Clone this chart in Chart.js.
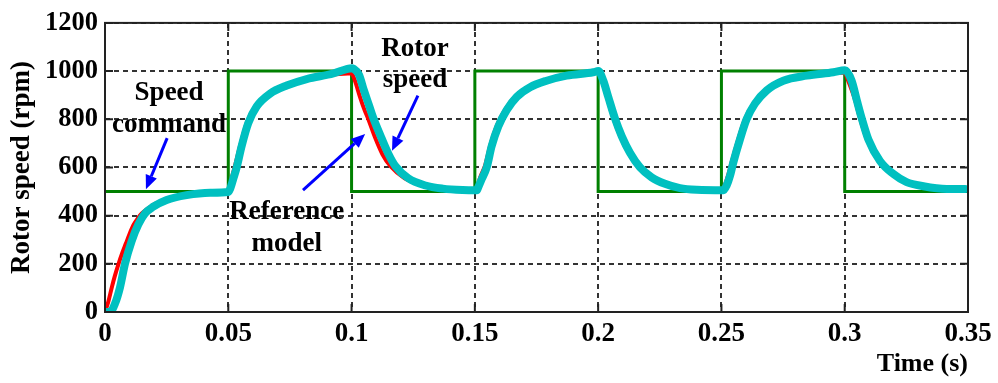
<!DOCTYPE html>
<html>
<head>
<meta charset="utf-8">
<script src="https://cdn.jsdelivr.net/npm/chart.js@4/dist/chart.umd.min.js"></script>
<style>
  html, body { margin: 0; padding: 0; background: #fff; }
  #wrap { position: relative; width: 998px; height: 383px; }
</style>
</head>
<body>
<div id="wrap"><canvas id="c"></canvas></div>
<script>
// Axis ticks
const xTicks = [0, 0.05, 0.1, 0.15, 0.2, 0.25, 0.3, 0.35];
const xTickLabels = ['0', '0.05', '0.1', '0.15', '0.2', '0.25', '0.3', '0.35'];
const yTicks = [0, 200, 400, 600, 800, 1000, 1200];
const yTickLabels = ['0', '200', '400', '600', '800', '1000', '1200'];

// Speed command (rpm), square steps 500 <-> 1000
const commandTime  = [0, 0.05, 0.05, 0.1, 0.1, 0.15, 0.15, 0.2, 0.2, 0.25, 0.25, 0.3, 0.3, 0.35];
const commandSpeed = [500, 500, 1000, 1000, 500, 500, 1000, 1000, 500, 500, 1000, 1000, 500, 500];

// Reference model output (rpm)
const modelTime = [
  0, 0.0014, 0.0027, 0.0040, 0.0055, 0.0070, 0.0085, 0.0100, 0.0115, 0.0135, 0.0149, 0.0175, 0.0205, 0.025, 0.033, 0.0426, 0.0495,
  0.0505, 0.0515, 0.0528, 0.0548, 0.0575, 0.061, 0.066, 0.073, 0.081, 0.090, 0.0985, 0.1,
  0.1012, 0.1035, 0.1052, 0.1068, 0.1095, 0.1125, 0.1158, 0.1215, 0.129, 0.136, 0.144, 0.1505,
  0.1510, 0.1522, 0.1542, 0.1562, 0.1590, 0.1623, 0.1664, 0.1718, 0.1786, 0.1868, 0.1976, 0.2,
  0.2012, 0.2035, 0.2062, 0.2090, 0.2123, 0.2163, 0.2210, 0.2265, 0.2326, 0.2395, 0.2502,
  0.2515, 0.2528, 0.2541, 0.2568, 0.2595, 0.2630, 0.2678, 0.2745, 0.2840, 0.2948, 0.3,
  0.3012, 0.3042, 0.3062, 0.3090, 0.3137, 0.3191, 0.3245, 0.3313, 0.3410, 0.3488];
const modelSpeed = [
  0, 45, 100, 150, 200, 245, 285, 325, 360, 392, 409, 430, 450, 466, 485, 496, 498,
  520, 560, 610, 690, 785, 853, 906, 940, 965, 982, 990, 990,
  965, 890, 840, 800, 725, 655, 605, 555, 525, 512, 506, 504,
  520, 560, 610, 690, 775, 840, 895, 934, 962, 982, 993, 994,
  970, 895, 804, 729, 661, 600, 559, 532, 514, 507, 504,
  530, 570, 620, 716, 800, 865, 920, 960, 981, 993, 994,
  965, 880, 804, 716, 627, 573, 539, 522, 511, 510];

// Measured rotor speed (rpm)
const rotorTime = [
  0, 0.0020, 0.0041, 0.0061, 0.0081, 0.0108, 0.0135, 0.0162, 0.0196, 0.025, 0.0331, 0.0426, 0.0500,
  0.0507, 0.0520, 0.0534, 0.0554, 0.0581, 0.0615, 0.0669, 0.0737, 0.0818, 0.0926, 0.0980, 0.1,
  0.1007, 0.1030, 0.1050, 0.1070, 0.1090, 0.1120, 0.1150, 0.1178, 0.1230, 0.1300, 0.1370, 0.1450, 0.1508,
  0.1514, 0.1528, 0.1548, 0.1568, 0.1595, 0.1629, 0.1670, 0.1724, 0.1791, 0.1872, 0.1980, 0.2001,
  0.2021, 0.2041, 0.2068, 0.2096, 0.2129, 0.2170, 0.2217, 0.2271, 0.2332, 0.2400, 0.2508,
  0.2521, 0.2535, 0.2548, 0.2575, 0.2602, 0.2636, 0.2684, 0.2751, 0.2846, 0.2954, 0.3001,
  0.3028, 0.3049, 0.3069, 0.3096, 0.3143, 0.3197, 0.3251, 0.3319, 0.3414, 0.3488];
const rotorSpeed = [
  0, 0, 36, 103, 200, 294, 363, 409, 437, 465, 485, 495, 498,
  510, 552, 600, 688, 784, 853, 906, 940, 967, 990, 1008, 1012,
  1010, 985, 920, 860, 800, 725, 655, 605, 555, 525, 512, 506, 505,
  518, 552, 600, 688, 770, 838, 893, 933, 960, 981, 995, 1000,
  960, 893, 804, 729, 661, 600, 559, 532, 514, 507, 505,
  525, 566, 620, 716, 800, 865, 920, 960, 981, 995, 1003,
  960, 879, 804, 716, 627, 573, 539, 522, 511, 511];

const pts = (xs, ys) => xs.map((x, i) => ({ x: x, y: ys[i] }));

// Callout texts, arrows in data units (time, rpm)
const callouts = [
  { lines: ['Speed', 'command'], t: 0.0260, v: [882, 747], arrow: [0.0252, 722, 0.0166, 510] },
  { lines: ['Rotor', 'speed'], t: 0.1257, v: [1062, 935], arrow: [0.1269, 898, 0.1164, 669] },
  { lines: ['Reference', 'model'], t: 0.0737, v: [384, 253], arrow: [0.0803, 506, 0.1055, 739] }
];

const SERIF = '"Liberation Serif", "Times New Roman", serif';

const framePlugin = {
  id: 'frameAndCallouts',
  afterDatasetsDraw(chart) {
    const { ctx, chartArea: a, scales } = chart;
    const xs = scales.x, ys = scales.y;
    ctx.save();
    // inner tick marks
    ctx.strokeStyle = '#222';
    ctx.lineWidth = 2;
    ctx.setLineDash([]);
    const tl = 8;
    ctx.beginPath();
    xTicks.forEach(t => {
      const px = xs.getPixelForValue(t);
      ctx.moveTo(px, a.bottom); ctx.lineTo(px, a.bottom - tl);
      ctx.moveTo(px, a.top); ctx.lineTo(px, a.top + tl);
    });
    yTicks.forEach(v => {
      const py = ys.getPixelForValue(v);
      ctx.moveTo(a.left, py); ctx.lineTo(a.left + tl, py);
      ctx.moveTo(a.right, py); ctx.lineTo(a.right - tl, py);
    });
    ctx.stroke();
    // box
    ctx.strokeStyle = '#222';
    ctx.lineWidth = 2;
    ctx.strokeRect(a.left, a.top, a.right - a.left, a.bottom - a.top);

    // callouts
    ctx.font = 'bold 27px ' + SERIF;
    ctx.textAlign = 'center';
    ctx.textBaseline = 'alphabetic';
    callouts.forEach(c => {
      ctx.fillStyle = '#000';
      const px = xs.getPixelForValue(c.t);
      c.lines.forEach((ln, i) => ctx.fillText(ln, px, ys.getPixelForValue(c.v[i])));
      const [t0, v0, t1, v1] = c.arrow;
      const x0 = xs.getPixelForValue(t0), y0 = ys.getPixelForValue(v0);
      const x1 = xs.getPixelForValue(t1), y1 = ys.getPixelForValue(v1);
      const ang = Math.atan2(y1 - y0, x1 - x0);
      const hl = 14, hw = 6;
      const bx = x1 - hl * Math.cos(ang), by = y1 - hl * Math.sin(ang);
      ctx.strokeStyle = '#0000ff';
      ctx.fillStyle = '#0000ff';
      ctx.lineWidth = 3;
      ctx.beginPath();
      ctx.moveTo(x0, y0); ctx.lineTo(bx, by);
      ctx.stroke();
      ctx.beginPath();
      ctx.moveTo(x1, y1);
      ctx.lineTo(bx + hw * Math.sin(ang), by - hw * Math.cos(ang));
      ctx.lineTo(bx - hw * Math.sin(ang), by + hw * Math.cos(ang));
      ctx.closePath();
      ctx.fill();
    });
    ctx.restore();
  }
};

new Chart(document.getElementById('c'), {
  type: 'line',
  data: {
    datasets: [
      { label: 'Rotor speed', data: pts(rotorTime, rotorSpeed), order: 0,
        borderColor: '#00c0c0', borderWidth: 8, pointRadius: 0,
        cubicInterpolationMode: 'monotone', borderCapStyle: 'round', borderJoinStyle: 'round' },
      { label: 'Reference model', data: pts(modelTime, modelSpeed), order: 1,
        borderColor: '#ff0000', borderWidth: 4, pointRadius: 0,
        cubicInterpolationMode: 'monotone', borderJoinStyle: 'round' },
      { label: 'Speed command', data: pts(commandTime, commandSpeed), order: 2,
        borderColor: '#008000', borderWidth: 3, pointRadius: 0, tension: 0 }
    ]
  },
  options: {
    responsive: true,
    maintainAspectRatio: false,
    devicePixelRatio: 1,
    animation: false,
    events: [],
    layout: { padding: { top: 18, right: 30, left: 0, bottom: 0 } },
    plugins: { legend: { display: false }, tooltip: { enabled: false } },
    scales: {
      x: {
        type: 'linear', min: 0, max: 0.35,
        afterBuildTicks: s => { s.ticks = xTicks.map(v => ({ value: v })); },
        afterFit: s => { s.height = 71; },
        ticks: {
          color: '#000', padding: 6, maxRotation: 0, autoSkip: false,
          font: { family: SERIF, size: 27, weight: 'bold' },
          callback: (v, i) => xTickLabels[i]
        },
        grid: { color: '#333', lineWidth: 2, drawTicks: false },
        border: { display: false, dash: [5, 4] },
        title: { display: true, text: 'Time (s)', align: 'end', color: '#000',
          font: { family: SERIF, size: 26, weight: 'bold' }, padding: { top: 0, bottom: 3 } }
      },
      y: {
        min: 0, max: 1200,
        afterBuildTicks: s => { s.ticks = yTicks.map(v => ({ value: v })); },
        afterFit: s => { s.width = 105; },
        ticks: {
          color: '#000', padding: 7,
          font: { family: SERIF, size: 26.5, weight: 'bold' },
          callback: (v, i) => yTickLabels[i]
        },
        grid: { color: '#333', lineWidth: 2, drawTicks: false },
        border: { display: false, dash: [5, 4] },
        title: { display: true, text: 'Rotor speed (rpm)', color: '#000',
          font: { family: SERIF, size: 27, weight: 'bold' }, padding: { top: 6, bottom: 0 } }
      }
    }
  },
  plugins: [framePlugin]
});
</script>
</body>
</html>
